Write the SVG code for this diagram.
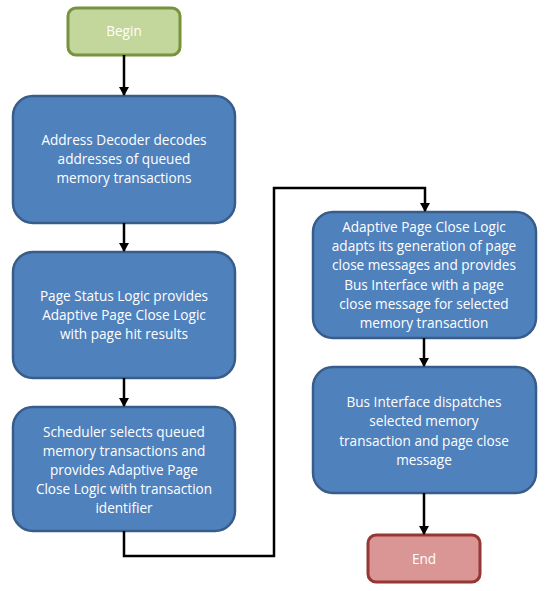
<svg xmlns="http://www.w3.org/2000/svg" width="550" height="591" viewBox="0 0 550 591">
<defs>
<marker id="ah" markerWidth="10" markerHeight="10" refX="8" refY="5" orient="auto" markerUnits="userSpaceOnUse">
<path d="M0,0 L9,5 L0,10 Z" fill="#000"/>
</marker>
<style>
.blue{fill:#4f81bd;stroke:#385d8a;stroke-width:2.5}
.green{fill:#c3d69b;stroke:#77933c;stroke-width:3}
.red{fill:#d99694;stroke:#953735;stroke-width:3}
text{font-family:"Open Sans","Liberation Sans",Arial,sans-serif;font-size:13.6px;fill:#fff;text-anchor:middle}
.c{fill:none;stroke:#000;stroke-width:2.5}
</style>
</defs>
<rect width="550" height="591" fill="#fff"/>
<g id="begin"><rect class="green" x="68" y="8" width="112" height="47" rx="8"/><text x="124" y="36">Begin</text></g>
<g id="n1"><rect class="blue" x="13" y="96" width="222" height="127" rx="20"/>
<text x="124" y="145">Address Decoder decodes</text><text x="124" y="164">addresses of queued</text><text x="124" y="183">memory transactions</text></g>
<g id="n2"><rect class="blue" x="13" y="252" width="222" height="126" rx="20"/>
<text x="124" y="301">Page Status Logic provides</text><text x="124" y="320">Adaptive Page Close Logic</text><text x="124" y="339">with page hit results</text></g>
<g id="n3"><rect class="blue" x="13" y="407" width="222" height="124" rx="20"/>
<text x="124" y="437">Scheduler selects queued</text><text x="124" y="456">memory transactions and</text><text x="124" y="475">provides Adaptive Page</text><text x="124" y="494">Close Logic with transaction</text><text x="124" y="513">identifier</text></g>
<g id="n4"><rect class="blue" x="313" y="212" width="223" height="126" rx="20"/>
<text x="424" y="232">Adaptive Page Close Logic</text><text x="424" y="251">adapts its generation of page</text><text x="424" y="270">close messages and provides</text><text x="424" y="290">Bus Interface with a page</text><text x="424" y="309">close message for selected</text><text x="424" y="328">memory transaction</text></g>
<g id="n5"><rect class="blue" x="313" y="367" width="223" height="126" rx="20"/>
<text x="424" y="407">Bus Interface dispatches</text><text x="424" y="426">selected memory</text><text x="424" y="446">transaction and page close</text><text x="424" y="465">message</text></g>
<g id="end"><rect class="red" x="368" y="535" width="112" height="47" rx="8"/><text x="424" y="564">End</text></g>
<g id="connectors">
<path class="c" d="M124,55 V95" marker-end="url(#ah)"/>
<path class="c" d="M124,223 V251" marker-end="url(#ah)"/>
<path class="c" d="M124,378 V406" marker-end="url(#ah)"/>
<path class="c" d="M124,531 V556 H274 V188 H425 V211" marker-end="url(#ah)"/>
<path class="c" d="M424,338 V366" marker-end="url(#ah)"/>
<path class="c" d="M424,493 V534" marker-end="url(#ah)"/>
</g>
</svg>
